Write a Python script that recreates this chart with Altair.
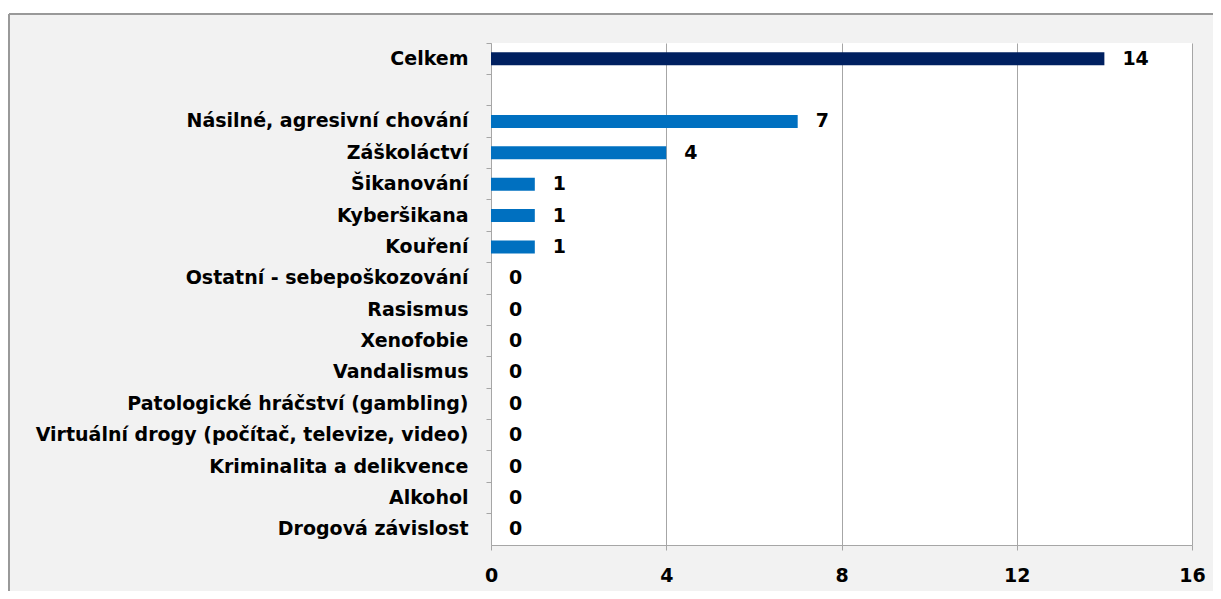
import altair as alt
import pandas as pd

categories = [
    "Celkem",
    " ",
    "Násilné, agresivní chování",
    "Záškoláctví",
    "Šikanování",
    "Kyberšikana",
    "Kouření",
    "Ostatní - sebepoškozování",
    "Rasismus",
    "Xenofobie",
    "Vandalismus",
    "Patologické hráčství (gambling)",
    "Virtuální drogy (počítač, televize, video)",
    "Kriminalita a delikvence",
    "Alkohol\u00a0",
    "Drogová závislost",
]
values = [14, None, 7, 4, 1, 1, 1, 0, 0, 0, 0, 0, 0, 0, 0, 0]
groups = ["total", None] + ["item"] * 14

rows = [
    {"category": c, "value": v, "group": g}
    for c, v, g in zip(categories, values, groups)
    if v is not None
]
df = pd.DataFrame(rows)

W, H = 701, 502
FONT = "DejaVu Sans"
FS = 19
GRID = "#a6a6a6"

y_enc = alt.Y(
    "category:N",
    sort=categories,
    scale=alt.Scale(domain=categories, paddingInner=0, paddingOuter=0),
    axis=alt.Axis(
        title=None,
        bandPosition=0,
        ticks=True,
        tickSize=5,
        tickColor=GRID,
        domainColor=GRID,
        labelFont=FONT,
        labelFontWeight="bold",
        labelFontSize=FS,
        labelColor="black",
        labelPadding=18,
        labelLimit=480,
        grid=False,
    ),
)
x_enc = alt.X(
    "value:Q",
    scale=alt.Scale(domain=[0, 16], nice=False),
    axis=alt.Axis(
        title=None,
        values=[0, 4, 8, 12, 16],
        tickSize=5,
        tickColor=GRID,
        domainColor=GRID,
        grid=True,
        gridColor=GRID,
        labelFont=FONT,
        labelFontWeight="bold",
        labelFontSize=FS,
        labelColor="black",
        labelPadding=16,
        labelFlush=False,
        labelOverlap=False,
    ),
)

base = alt.Chart(df)

strip = base.mark_rect(color="white").encode(
    x=alt.value(-483), x2=alt.value(W + 30), y=alt.value(-35), y2=alt.value(-29)
)
frame = base.mark_rect(fill=None, stroke="#999999", strokeWidth=1).encode(
    x=alt.value(-482), x2=alt.value(W + 60), y=alt.value(-29), y2=alt.value(H + 80)
)

bars = base.mark_bar(size=13).encode(
    x=x_enc,
    y=y_enc,
    color=alt.Color(
        "group:N",
        scale=alt.Scale(domain=["total", "item"], range=["#002060", "#0070C0"]),
        legend=None,
    ),
)
labels = base.mark_text(
    align="left", baseline="middle", dx=18, font=FONT, fontWeight="bold",
    fontSize=FS, color="black"
).encode(x="value:Q", y=alt.Y("category:N", sort=categories), text="value:Q")

chart = (
    alt.layer(strip, frame, bars, labels)
    .properties(
        width=W,
        height=H,
        background="#f2f2f2",
        padding={"left": 483, "top": 35, "right": 21, "bottom": 46},
        autosize=alt.AutoSizeParams(type="none"),
    )
    .configure_view(fill="white", stroke=None)
)

chart.save("out.html", embed_options={"renderer": "svg", "actions": False})
